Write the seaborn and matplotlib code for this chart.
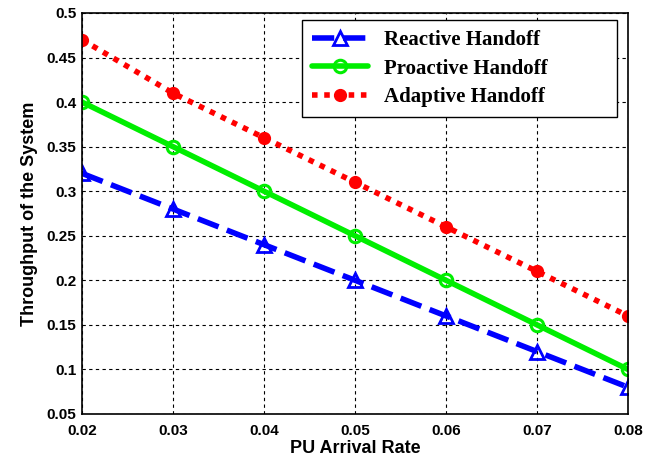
import matplotlib
matplotlib.use("Agg")
import matplotlib.pyplot as plt
import seaborn as sns
import pandas as pd

x_vals = [0.02, 0.03, 0.04, 0.05, 0.06, 0.07, 0.08]
reactive = [0.32, 0.28, 0.24, 0.20, 0.16, 0.12, 0.08]
proactive = [0.40, 0.35, 0.30, 0.25, 0.20, 0.15, 0.10]
adaptive = [0.47, 0.41, 0.36, 0.31, 0.26, 0.21, 0.16]
series_names = ["Reactive Handoff", "Proactive Handoff", "Adaptive Handoff"]
x_ticks = [0.02, 0.03, 0.04, 0.05, 0.06, 0.07, 0.08]
y_ticks = [0.05, 0.1, 0.15, 0.2, 0.25, 0.3, 0.35, 0.4, 0.45, 0.5]
y_ticklabels = ["0.05", "0.1", "0.15", "0.2", "0.25", "0.3", "0.35", "0.4", "0.45", "0.5"]

sns.set_style("white")
plt.rcParams['font.family'] = ['Liberation Sans', 'DejaVu Sans']
plt.rcParams['text.color'] = 'black'
plt.rcParams['axes.labelcolor'] = 'black'
plt.rcParams['xtick.color'] = 'black'
plt.rcParams['ytick.color'] = 'black'

df = pd.DataFrame({
    "x": x_vals * 3,
    "y": reactive + proactive + adaptive,
    "series": [series_names[0]] * 7 + [series_names[1]] * 7 + [series_names[2]] * 7,
})

fig = plt.figure(figsize=(6.48, 4.63), dpi=100)
ax = fig.add_axes([0.1265, 0.106, 0.8425, 0.866])

palette = {series_names[0]: "#0000ff", series_names[1]: "#00ee00", series_names[2]: "#ff0000"}
styles = {series_names[0]: dict(ls=(0, (4, 1.6)), marker="^", mfc="none", ms=10, mew=2),
          series_names[1]: dict(ls="-", marker="o", mfc="none", ms=9, mew=2.2),
          series_names[2]: dict(ls=(0, (1, 1.2)), marker="o", mfc="#ff0000", ms=8, mew=1.5)}

for name in series_names:
    sub = df[df["series"] == name]
    st = styles[name]
    sns.lineplot(data=sub, x="x", y="y", ax=ax, color=palette[name], lw=4,
                 linestyle=st["ls"], marker=st["marker"], markersize=st["ms"],
                 markerfacecolor=st["mfc"], markeredgecolor=palette[name],
                 markeredgewidth=st["mew"], label=name)

ax.set_xlim(0.02, 0.08)
ax.set_ylim(0.05, 0.5)
ax.set_xticks(x_ticks)
ax.set_xticklabels([f"{v:.2f}" for v in x_ticks], fontweight="bold", fontsize=11)
ax.set_yticks(y_ticks)
ax.set_yticklabels(y_ticklabels, fontweight="bold", fontsize=11)
ax.grid(True, color="black", linestyle=(0, (3, 3)), linewidth=0.8)
ax.tick_params(axis="x", direction="in", length=4, pad=7)
ax.tick_params(axis="y", direction="in", length=4, pad=4)
for s in ax.spines.values():
    s.set_color("black")
    s.set_linewidth(1.2)

ax.set_xlabel("PU Arrival Rate", fontweight="bold", fontsize=13, labelpad=2)
ax.set_ylabel("Throughput of the System", fontweight="bold", fontsize=13, labelpad=6)

leg = ax.legend(loc="upper left", bbox_to_anchor=(0.403, 0.738, 0.577, 0.2445), mode="expand",
                frameon=True, fancybox=False,
                prop={"family": "Liberation Serif", "weight": "bold", "size": 15},
                handlelength=2.65, borderpad=0.5, labelspacing=0.4, handletextpad=0.8,
                borderaxespad=0.0)
leg.get_frame().set_edgecolor("black")
leg.get_frame().set_linewidth(1.0)
leg.get_frame().set_alpha(1)
for t in leg.get_texts():
    t.set_color("black")

fig.savefig("out.png", dpi=100)
